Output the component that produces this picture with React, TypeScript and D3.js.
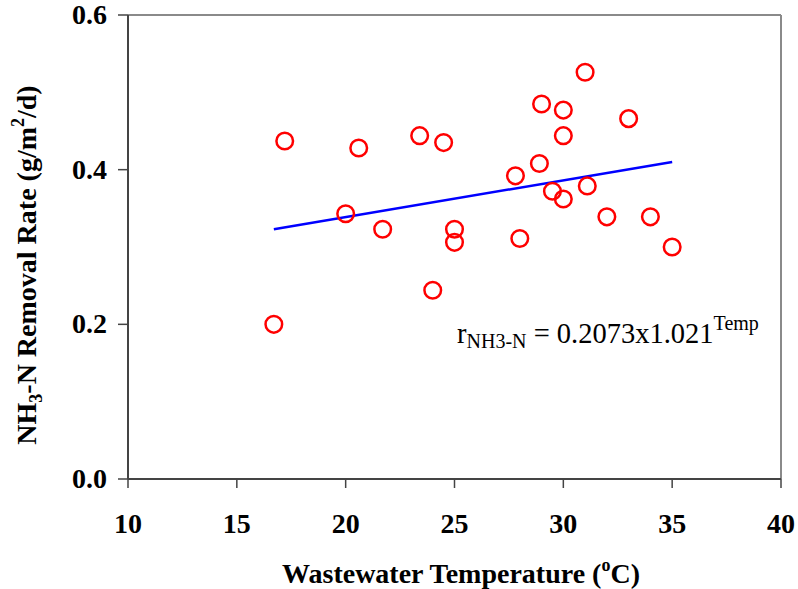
import React from "react";
import * as d3 from "d3";

const tempValues = [16.7, 17.2, 20.0, 20.6, 21.7, 23.4, 24.5, 24.0, 25.0, 25.0, 27.8, 28.0, 28.9, 29.0, 29.5, 30.0, 30.0, 30.0, 31.0, 31.1, 32.0, 33.0, 34.0, 35.0];
const rateValues = [0.200, 0.437, 0.343, 0.428, 0.323, 0.444, 0.435, 0.244, 0.323, 0.306, 0.392, 0.311, 0.408, 0.485, 0.372, 0.477, 0.444, 0.362, 0.526, 0.379, 0.339, 0.466, 0.339, 0.300];
const trendX = [16.7, 35.0];
const trendY = [0.323, 0.410];
const xTicks = [10, 15, 20, 25, 30, 35, 40];
const yTicks = [0.0, 0.2, 0.4, 0.6];

const W = 798, H = 589;
const left = 128, right = 781, top = 15, bottom = 479;

export default function App() {
  const x = d3.scaleLinear().domain([10, 40]).range([left, right]);
  const y = d3.scaleLinear().domain([0, 0.6]).range([bottom, top]);
  const line = d3.line<number>().x((_, i) => x(trendX[i])).y((d) => y(d));
  const font = "'Liberation Serif', 'Times New Roman', serif";
  return (
    <svg width={W} height={H} style={{ position: "absolute", left: 0, top: 0, background: "#fff" }} fontFamily={font}>
      <line x1={left} x2={right} y1={top} y2={top} stroke="#8a8a8a" strokeWidth={2} />
      <line x1={right} x2={right} y1={top} y2={bottom} stroke="#8a8a8a" strokeWidth={2} />
      <line x1={left} x2={right} y1={bottom} y2={bottom} stroke="#444" strokeWidth={2} />
      <line x1={left} x2={left} y1={top} y2={bottom} stroke="#444" strokeWidth={2} />
      {xTicks.map((t) => (
        <g key={"x" + t}>
          <line x1={x(t)} x2={x(t)} y1={bottom} y2={bottom + 9} stroke="#444" strokeWidth={1.5} />
          <text x={x(t)} y={533} textAnchor="middle" fontSize={28} fontWeight="bold">{t}</text>
        </g>
      ))}
      {yTicks.map((t) => (
        <g key={"y" + t}>
          <line x1={left - 10} x2={left} y1={y(t)} y2={y(t)} stroke="#444" strokeWidth={1.5} />
          <text x={107} y={y(t) + 9} textAnchor="end" fontSize={28} fontWeight="bold">{t.toFixed(1)}</text>
        </g>
      ))}
      <path d={line(trendY) || ""} fill="none" stroke="#0000ff" strokeWidth={2.5} />
      {tempValues.map((t, i) => (
        <circle key={i} cx={x(t)} cy={y(rateValues[i])} r={8.3} fill="none" stroke="#ff0000" strokeWidth={2.5} />
      ))}
      <text x={457} y={343} fontSize={28.5}>
        r<tspan fontSize={20} dy={5}>NH3-N</tspan><tspan dy={-5}> = 0.2073x1.021</tspan><tspan fontSize={20} dy={-13}>Temp</tspan>
      </text>
      <text x={461} y={583} textAnchor="middle" fontSize={28} fontWeight="bold">
        Wastewater Temperature (<tspan fontSize={18} dy={-12}>o</tspan><tspan dy={12}>C)</tspan>
      </text>
      <text transform="translate(36,265) rotate(-90)" textAnchor="middle" fontSize={28} fontWeight="bold">
        NH<tspan fontSize={18} dy={6}>3</tspan><tspan dy={-6}>-N Removal Rate (g/m</tspan><tspan fontSize={18} dy={-12}>2</tspan><tspan dy={12}>/d)</tspan>
      </text>
    </svg>
  );
}
